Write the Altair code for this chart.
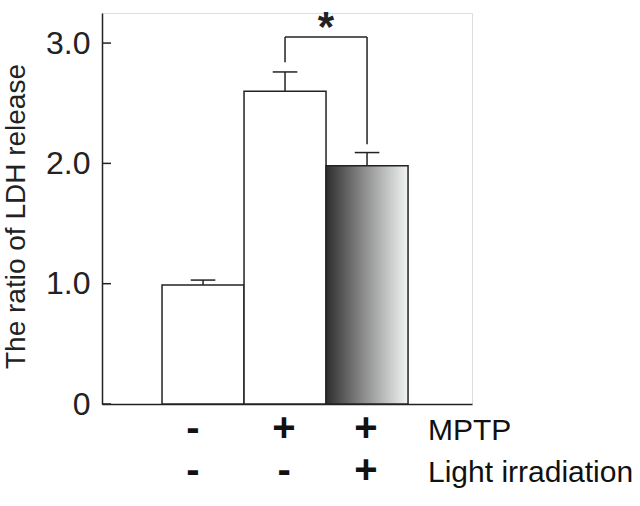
import altair as alt
import pandas as pd

# ---- data ----
groups = [1, 2, 3]
means = [0.99, 2.60, 1.98]
err_tops = [1.03, 2.76, 2.09]
fills = ["white", "white", "gradient"]
mptp_signs = ["-", "+", "+"]
light_signs = ["-", "-", "+"]
row_names = ["MPTP", "Light irradiation"]
y_ticks = [0, 1, 2, 3]
# significance bracket (group 2 vs group 3)
br_x1 = [2, 2, 3]
br_x2 = [2, 3, 3]
br_y1 = [2.84, 3.05, 2.16]
br_y2 = [3.05, 3.05, 3.05]
star_label = "*"

FONT = "Liberation Sans"
INK = "#222222"

bars = pd.DataFrame({"pos": groups, "mean": means, "top": err_tops, "fill": fills})
bars["left"] = bars["pos"] - 0.5
bars["right"] = bars["pos"] + 0.5
bars["capL"] = bars["pos"] - 0.15
bars["capR"] = bars["pos"] + 0.15
bars["zero"] = 0

signs = pd.DataFrame({"pos": groups, "mptp": mptp_signs, "light": light_signs})
bracket = pd.DataFrame({"x1": br_x1, "x2": br_x2, "y1": br_y1, "y2": br_y2})
star = pd.DataFrame({"x": [2.5], "y": [max(br_y2)], "t": [star_label]})
ticks = pd.DataFrame({"v": y_ticks})

xs = alt.Scale(domain=[-0.232, 4.28], nice=False, zero=False)
ys = alt.Scale(domain=[0, 3.25], nice=False, zero=True)

x_axis = alt.Axis(labels=False, ticks=False, title=None, grid=False,
                  domainColor=INK, domainWidth=1.5)
y_axis = alt.Axis(values=y_ticks, tickSize=0, labelPadding=12, grid=False,
                  labelExpr="datum.value == 0 ? '0' : format(datum.value, '.1f')",
                  labelFont=FONT, labelFontSize=32, labelColor=INK,
                  domainColor=INK, domainWidth=1.5,
                  title="The ratio of LDH release", titleFont=FONT, titleFontSize=28,
                  titleFontWeight="normal", titleColor=INK, titleAngle=-90,
                  titleX=-86, titleY=203, titleAlign="center", titleBaseline="middle")

base = alt.Chart(bars)

white_bars = base.transform_filter(alt.datum.fill == "white").mark_bar(
    fill="white", stroke=INK, strokeWidth=1.5).encode(
    x=alt.X("left:Q", scale=xs, axis=x_axis), x2="right:Q",
    y=alt.Y("mean:Q", scale=ys, axis=y_axis), y2="zero:Q")

grad = alt.LinearGradient(gradient="linear", x1=0, x2=1, y1=0, y2=0,
                          stops=[alt.GradientStop(color="#2e2e2e", offset=0),
                                 alt.GradientStop(color="#8a8a8a", offset=0.45),
                                 alt.GradientStop(color="#f2f4f4", offset=1)])
grad_bars = base.transform_filter(alt.datum.fill == "gradient").mark_bar(
    color=grad, stroke=INK, strokeWidth=1.5).encode(
    x=alt.X("left:Q", scale=xs), x2="right:Q",
    y=alt.Y("mean:Q", scale=ys), y2="zero:Q")

err_v = base.mark_rule(color=INK, strokeWidth=1.5).encode(
    x=alt.X("pos:Q", scale=xs), y=alt.Y("mean:Q", scale=ys), y2="top:Q")
err_cap = base.mark_rule(color=INK, strokeWidth=1.5).encode(
    x=alt.X("capL:Q", scale=xs), x2="capR:Q", y=alt.Y("top:Q", scale=ys))

br = alt.Chart(bracket).mark_rule(color=INK, strokeWidth=1.5).encode(
    x=alt.X("x1:Q", scale=xs), x2="x2:Q", y=alt.Y("y1:Q", scale=ys), y2="y2:Q")

star_t = alt.Chart(star).mark_text(font=FONT, fontSize=42, fontWeight="bold",
                                   color=INK, baseline="alphabetic", dy=4).encode(
    x=alt.X("x:Q", scale=xs), y=alt.Y("y:Q", scale=ys), text="t:N")

tick_marks = alt.Chart(ticks).mark_rule(color=INK, strokeWidth=1.5).encode(
    y=alt.Y("v:Q", scale=ys), x=alt.value(0), x2=alt.value(9))

def sign_layer(field, ypix, first):
    src = alt.Chart(signs).transform_filter(
        alt.datum.pos == 1 if first else alt.datum.pos > 1)
    return src.mark_text(font=FONT, fontSize=40, fontWeight="bold", color="#111111",
                         baseline="alphabetic", dx=-10 if first else -1).encode(
        x=alt.X("pos:Q", scale=xs), y=alt.value(ypix), text=f"{field}:N")

s1a = sign_layer("mptp", 428, True)
s1b = sign_layer("mptp", 428, False)
s2a = sign_layer("light", 470, True)
s2b = sign_layer("light", 470, False)

def row_label(i, ypix):
    return alt.Chart(pd.DataFrame({"name": [row_names[i]]})).mark_text(
        font=FONT, fontSize=30, color="#111111", align="left",
        baseline="alphabetic").encode(x=alt.value(326), y=alt.value(ypix), text="name:N")

r1 = row_label(0, 427)
r2 = row_label(1, 469)

chart = alt.layer(white_bars, grad_bars, err_v, err_cap, br, star_t, tick_marks,
                  s1a, s1b, s2a, s2b, r1, r2).properties(
    width=370, height=391,
    autosize=alt.AutoSizeParams(type="none"),
    padding={"left": 102, "top": 13, "right": 168, "bottom": 102},
).configure_view(stroke=None).configure(background="white")

chart.save("out.html", embed_options={"renderer": "svg", "actions": False})
